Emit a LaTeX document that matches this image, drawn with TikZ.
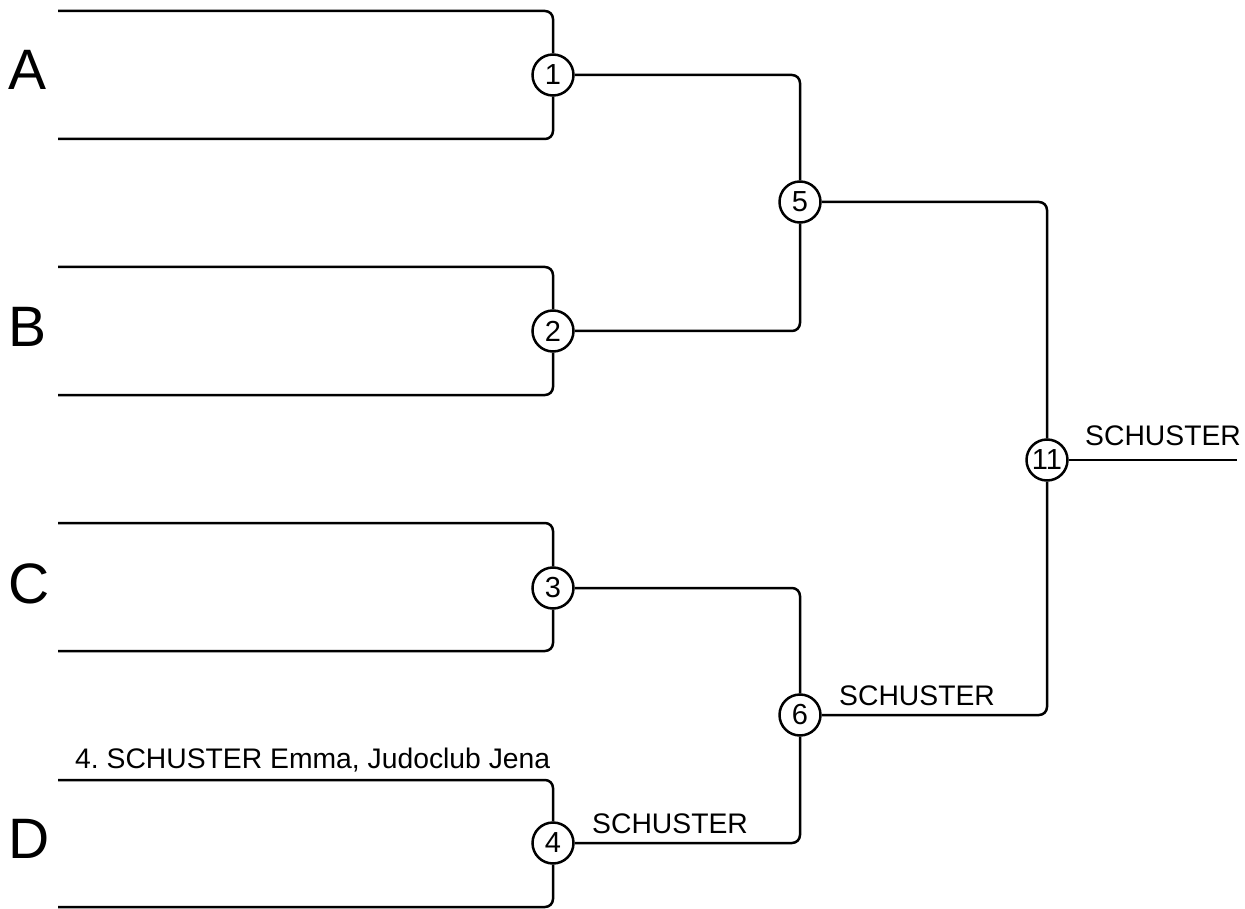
\documentclass[tikz,border=0pt]{standalone}
\usepackage{fontspec}
\setmainfont{Liberation Sans}
\frenchspacing
\begin{document}
\begin{tikzpicture}[x=1pt,y=-1pt,
  line/.style={line width=2.5pt, rounded corners=8pt},
  circ/.style={circle, draw, line width=2.5pt, fill=white, minimum size=41pt, inner sep=0pt, font=\fontsize{29}{30}\selectfont},
  lbl/.style={anchor=base west, inner sep=0pt, font=\fontsize{28.3}{30}\selectfont},
  big/.style={anchor=base west, inner sep=0pt, font=\fontsize{57}{60}\selectfont}]
\useasboundingbox (0,0) rectangle (1245,909);
% bracket ends
\coordinate (a1) at (58,11);  \coordinate (a2) at (58,139);
\coordinate (b1) at (58,267); \coordinate (b2) at (58,395);
\coordinate (c1) at (58,523); \coordinate (c2) at (58,651);
\coordinate (d1) at (58,780); \coordinate (d2) at (58,907);
\coordinate (fin) at (1237,460);
% match nodes
\node[circ] (m1) at (553,75) {1};
\node[circ] (m2) at (553,331) {2};
\node[circ] (m3) at (553,588) {3};
\node[circ] (m4) at (553,843) {4};
\node[circ] (m5) at (800,202) {5};
\node[circ] (m6) at (800,715) {6};
\node[circ] (m11) at (1047,460) {11};
% connectors
\draw[line] (a1) -| (m1); \draw[line] (a2) -| (m1);
\draw[line] (b1) -| (m2); \draw[line] (b2) -| (m2);
\draw[line] (c1) -| (m3); \draw[line] (c2) -| (m3);
\draw[line] (d1) -| (m4); \draw[line] (d2) -| (m4);
\draw[line] (m1) -| (m5); \draw[line] (m2) -| (m5);
\draw[line] (m3) -| (m6); \draw[line] (m4) -| (m6);
\draw[line] (m5) -| (m11); \draw[line] (m6) -| (m11);
\draw[line] (m11) -- (fin);
% pool letters
\node[big] (lA) at (8,90) {A};
\node[big] (lB) at (8,346) {B};
\node[big] (lC) at (8,603) {C};
\node[big] (lD) at (8,858) {D};
% labels
\node[lbl] (t4) at (75,768) {4. SCHUSTER Emma, Judoclub Jena};
\node[lbl] (w4) at (592,833) {SCHUSTER};
\node[lbl] (w6) at (839,705) {SCHUSTER};
\node[lbl] (w11) at (1085,445) {SCHUSTER};
\end{tikzpicture}
\end{document}
